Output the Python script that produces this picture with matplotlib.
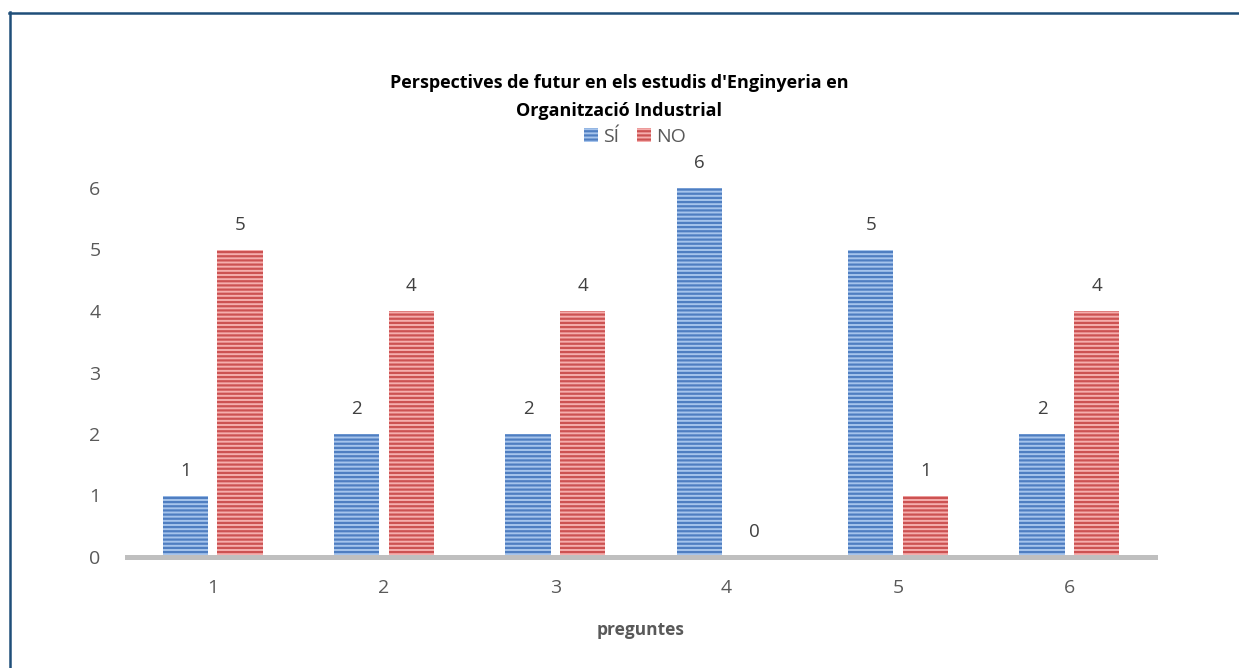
import matplotlib
matplotlib.use("Agg")
import matplotlib.pyplot as plt
import numpy as np
from matplotlib.lines import Line2D
from matplotlib.patches import Patch

categories = ["1", "2", "3", "4", "5", "6"]
si_values = [1, 2, 2, 6, 5, 2]
no_values = [5, 4, 4, 0, 1, 4]
series_names = ["SÍ", "NO"]
y_ticks = [0, 1, 2, 3, 4, 5, 6]
title = "Perspectives de futur en els estudis d'Enginyeria en\nOrganització Industrial"
xlabel = "preguntes"

plt.rcParams['font.family'] = ['Open Sans', 'DejaVu Sans']
plt.rcParams['hatch.linewidth'] = 1.6

W, H = 1239, 668
fig = plt.figure(figsize=(W / 100, H / 100), dpi=100)
ax = fig.add_axes([127 / W, 1 - 557 / H, (1155 - 127) / W, (557 - 188) / H])

x = np.arange(len(categories))
bw = 0.265
gap = 0.027
blue_face, blue_hatch = "#A6C4EC", "#4F7EC1"
red_face, red_hatch = "#F5AEAD", "#CC5252"
HATCH = "----"

b1 = ax.bar(x - bw / 2 - gap, si_values, bw, color=blue_face, edgecolor=blue_hatch,
            hatch=HATCH, linewidth=0, zorder=2)
b2 = ax.bar(x + bw / 2 + gap, no_values, bw, color=red_face, edgecolor=red_hatch,
            hatch=HATCH, linewidth=0, zorder=2)

lab_color = "#404040"
for bars, vals in ((b1, si_values), (b2, no_values)):
    for r, v in zip(bars, vals):
        ax.annotate(str(v), (r.get_x() + r.get_width() / 2, v), xytext=(0, 18),
                    textcoords="offset points", ha="center", va="center",
                    fontsize=13.5, color=lab_color, annotation_clip=False)

ax.set_xlim(-0.5, len(categories) - 0.5)
ax.set_ylim(0, 6)
ax.set_yticks(y_ticks)
ax.set_yticklabels([str(t) for t in y_ticks])
ax.set_xticks(x)
ax.set_xticklabels(categories)
ax.tick_params(axis="both", length=0, labelsize=14, labelcolor="#595959")
ax.tick_params(axis="y", pad=19)
ax.tick_params(axis="x", pad=16)
for s in ("top", "right", "left"):
    ax.spines[s].set_visible(False)
ax.spines["bottom"].set_color("#BFBFBF")
ax.spines["bottom"].set_linewidth(3.6)
ax.spines["bottom"].set_zorder(3)

ax.set_xlabel(xlabel, fontsize=12.5, fontweight="bold", color="#595959", labelpad=17)

fig.text(0.5, 1 - 97 / H, title, ha="center", va="center", fontsize=13,
         fontweight="bold", color="#000000", linespacing=1.65)

handles = [Patch(facecolor=blue_face, edgecolor=blue_hatch, hatch=HATCH, linewidth=0),
           Patch(facecolor=red_face, edgecolor=red_hatch, hatch=HATCH, linewidth=0)]
fig.legend(handles, series_names, loc="center", bbox_to_anchor=(635 / W, 1 - 137 / H),
           ncol=2, frameon=False, fontsize=14, handlelength=0.75, handleheight=0.75,
           handletextpad=0.25, columnspacing=0.9, labelcolor="#595959")

border = "#1F4E79"
fig.add_artist(Line2D([9 / W, 1], [1 - 12.5 / H, 1 - 12.5 / H], color=border, lw=1.8,
                      transform=fig.transFigure))
fig.add_artist(Line2D([10 / W, 10 / W], [1 - 12 / H, 0], color=border, lw=1.8,
                      transform=fig.transFigure))

fig.savefig("out.png", dpi=100, facecolor="white")
